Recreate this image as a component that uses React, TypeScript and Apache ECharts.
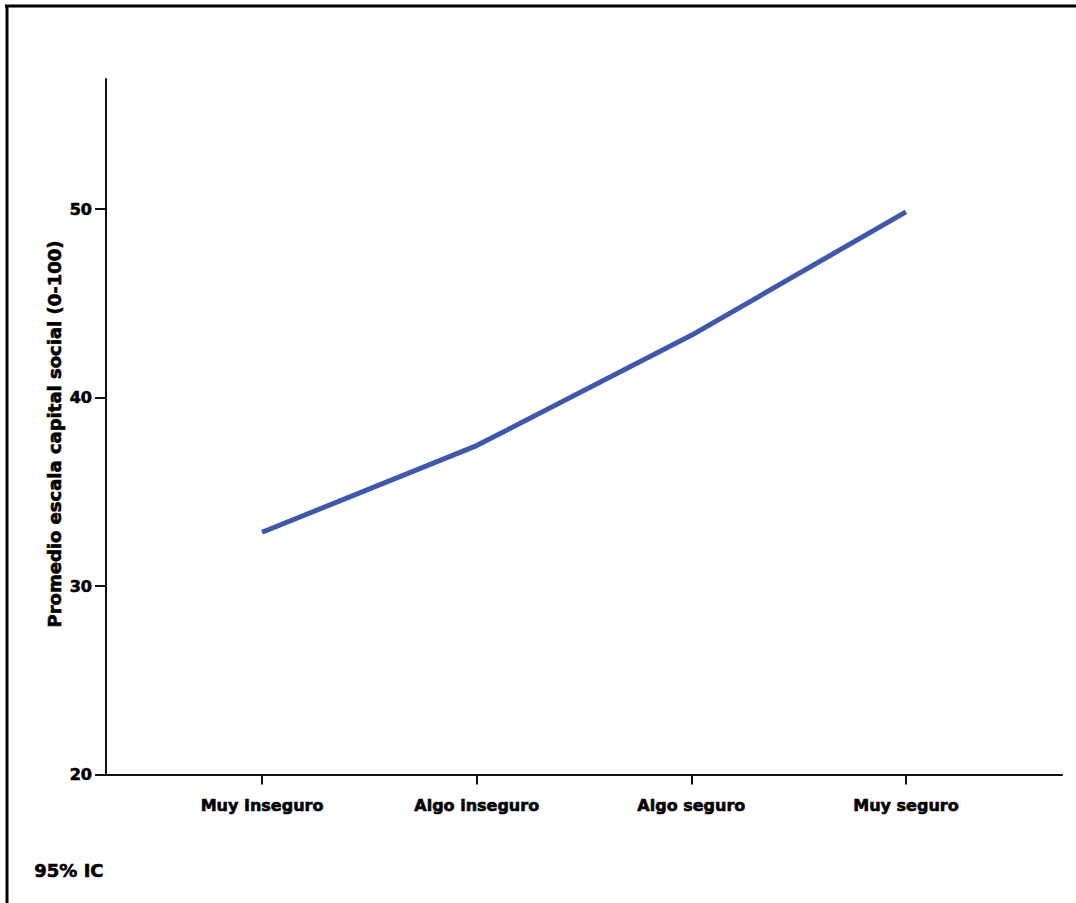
import React, { useEffect, useRef } from "react";
import * as echarts from "echarts";

const categories = ["Muy Inseguro", "Algo inseguro", "Algo seguro", "Muy seguro"];
const meanValues = [32.85, 37.45, 43.3, 49.85];
const yTicks = [20, 30, 40, 50];
const yAxisName = "Promedio escala capital social (0-100)";
const footNote = "95% IC";

const FONT = "'DejaVu Sans', sans-serif";

export default function App() {
  const ref = useRef<HTMLDivElement>(null);
  useEffect(() => {
    document.body.style.margin = "0";
    const chart = echarts.init(ref.current!, null, { renderer: "svg" });
    const heavy = { textBorderColor: "#000", textBorderWidth: 0.6 };
    chart.setOption({
      animation: false,
      backgroundColor: "#ffffff",
      grid: { left: 106, top: 79, width: 956, height: 695.5, containLabel: false },
      xAxis: {
        type: "value",
        min: -0.727,
        max: 3.727,
        splitLine: { show: false },
        axisLine: { show: true, onZero: false, lineStyle: { color: "#111", width: 2 } },
        axisTick: { show: true, length: 10, lineStyle: { color: "#111", width: 2 }, customValues: [0, 1, 2, 3] },
        axisLabel: {
          customValues: [0, 1, 2, 3],
          formatter: (v: number) => categories[Math.round(v)] ?? "",
          color: "#000",
          fontFamily: FONT,
          fontWeight: "bold",
          fontSize: 16,
          margin: 23,
          ...heavy,
        },
      },
      yAxis: {
        type: "value",
        min: 20,
        max: 56.9,
        splitLine: { show: false },
        axisLine: { show: true, onZero: false, lineStyle: { color: "#111", width: 2 } },
        axisTick: { show: true, length: 11, lineStyle: { color: "#111", width: 2 }, customValues: yTicks },
        axisLabel: {
          customValues: yTicks,
          color: "#000",
          fontFamily: FONT,
          fontWeight: "bold",
          fontSize: 16,
          margin: 14,
          ...heavy,
        },
      },
      series: [
        {
          type: "line",
          data: meanValues.map((v, i) => [i, v]),
          symbol: "none",
          lineStyle: { color: "#3f58a9", width: 5 },
        },
      ],
      graphic: [
        { type: "line", shape: { x1: 5, y1: 6, x2: 1076, y2: 6 }, style: { stroke: "#000", lineWidth: 3 } },
        { type: "line", shape: { x1: 7, y1: 5, x2: 7, y2: 903 }, style: { stroke: "#000", lineWidth: 3 } },
        {
          type: "text",
          x: 54,
          y: 434,
          rotation: Math.PI / 2,
          style: {
            text: yAxisName,
            fill: "#000",
            font: `bold 18px ${FONT}`,
            stroke: "#000",
            lineWidth: 0.6,
            align: "center",
            verticalAlign: "middle",
          },
        },
        {
          type: "text",
          left: 34,
          top: 861,
          style: { text: footNote, fill: "#000", font: `bold 18px ${FONT}`, stroke: "#000", lineWidth: 0.6 },
        },
      ],
    });
    return () => chart.dispose();
  }, []);
  return <div ref={ref} style={{ position: "fixed", left: 0, top: 0, width: 1076, height: 903 }} />;
}
